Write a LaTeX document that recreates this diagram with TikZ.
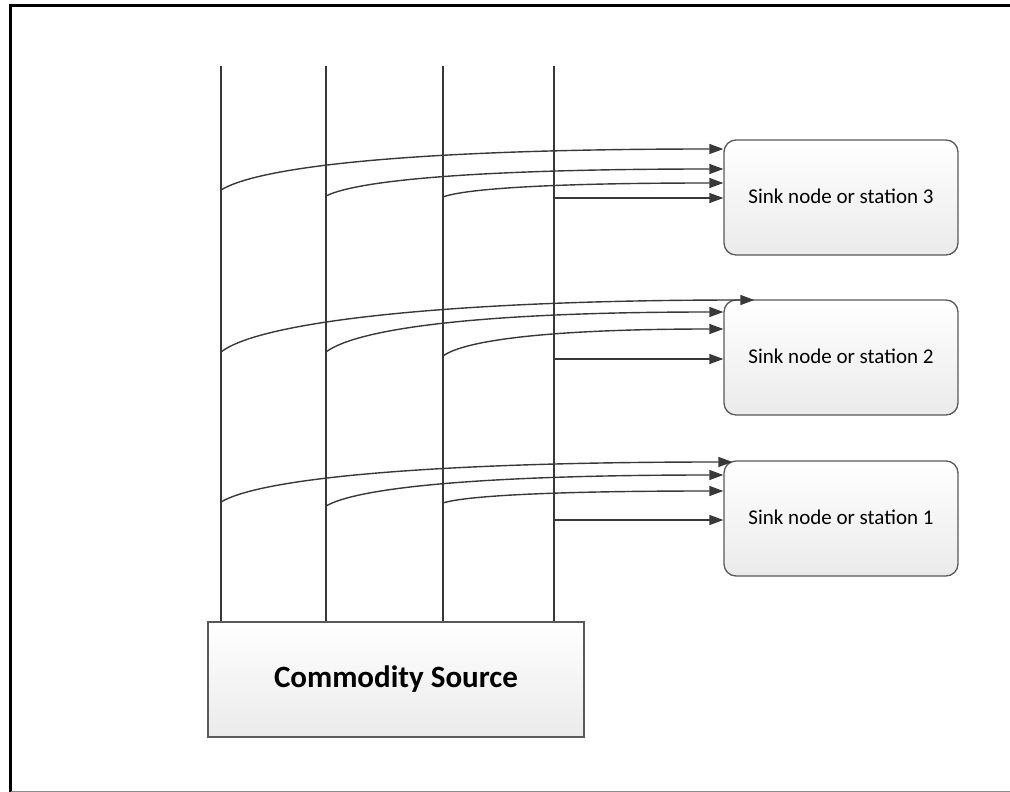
\documentclass[tikz,border=0pt]{standalone}
\usepackage{fontspec}
\setmainfont{Carlito}
\usetikzlibrary{arrows.meta,calc}

\begin{document}
\begin{tikzpicture}[x=1pt,y=-1pt,
    boxbase/.style={draw=black!65, line width=1.3pt, top color=white, bottom color=black!8},
    sink/.style={boxbase, rounded corners=12pt, minimum width=234pt, minimum height=115pt,
      font=\fontsize{21}{24}\selectfont},
    source/.style={boxbase, minimum width=376pt, minimum height=115pt,
      font=\fontsize{31}{36}\selectfont\bfseries},
    feed/.style={line width=1.9pt, draw=black!78},
    flow/.style={line width=1.4pt, draw=black!78, -{Triangle[length=14pt,width=10pt]}}]
    \useasboundingbox (0,0) rectangle (1010,792);

    % frame
    \draw[line width=2.5pt] (10.5,792) -- (10.5,5.5) -- (1010,5.5);
    \draw[black!45, line width=1pt] (10.5,791) -- (1010,791);

    % boxes
    \node[source] (src) at (396,679.5) {Commodity Source};
    \node[sink] (s3) at (841,197.5) {\raisebox{3pt}{Sink node or station 3}};
    \node[sink] (s2) at (841,357.5) {\raisebox{3pt}{Sink node or station 2}};
    \node[sink] (s1) at (841,518.5) {\raisebox{3pt}{Sink node or station 1}};

    % supply lines
    \foreach \i/\x in {1/221, 2/326, 3/443, 4/554}{
      \coordinate (l\i) at (\x,66);
      \draw[feed] (l\i) -- (l\i |- src.north);
    }

    % flows into the sinks
    \foreach \k/\ya/\yb/\yc/\yd/\ta/\tb/\tc/\dx in
        {3/190/196/197/198/149/169/183/0, 2/352/352/356/359/300/312/329/31, 1/502/506/503/520/462/475/491/9}{
      \foreach \j/\ys/\ye/\ca/\cb/\sx in {1/\ya/\ta/40/300/\dx, 2/\yb/\tb/32/240/0, 3/\yc/\tc/22/170/0}{
        \draw[flow] (l\j |- 0,\ys) .. controls +(\ca,{0.6*(\ye-\ys)}) and +(-\cb,0) .. ($(s\k.west |- 0,\ye)+(\sx,0)$);
      }
      \draw[flow] (l4 |- 0,\yd) -- (s\k.west |- 0,\yd);
    }
\end{tikzpicture}
\end{document}
